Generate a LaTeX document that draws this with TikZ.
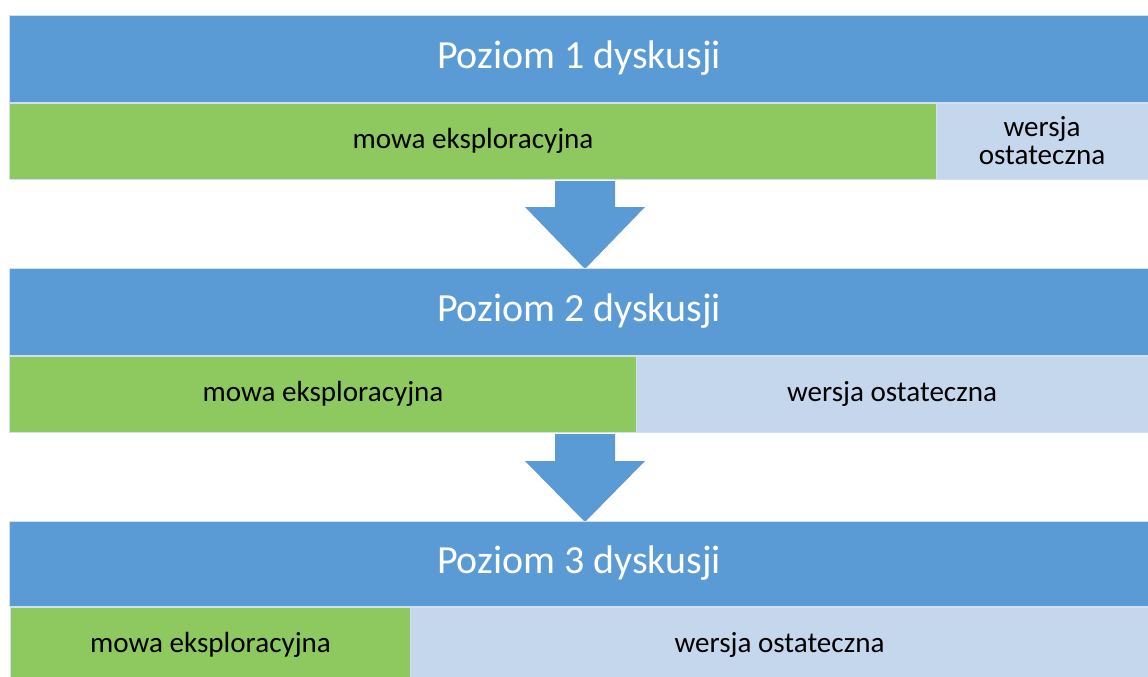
\documentclass[tikz,border=0pt]{standalone}
\usepackage{fontspec}
\setmainfont{Carlito}
\definecolor{headblue}{HTML}{5B9BD5}
\definecolor{explorgreen}{HTML}{8DC95E}
\definecolor{finalblue}{HTML}{C5D7ED}
\definecolor{cellline}{HTML}{D2DFF0}
\begin{document}
\begin{tikzpicture}[x=0.025cm, y=-0.025cm,
    header/.style={draw=cellline, line width=0.6pt, fill=headblue, text=white, inner sep=0pt,
      minimum width=28.45cm, minimum height=2.175cm, font=\fontsize{28.4}{33}\selectfont},
    explor/.style={draw=cellline, line width=0.6pt, fill=explorgreen, inner sep=0pt,
      minimum height=1.9cm, font=\fontsize{20.7}{20}\selectfont},
    final/.style={explor, fill=finalblue, align=center},
    downarrow/.style={fill=headblue}]
  \useasboundingbox (0, 0) rectangle (1148, 676);
  % block arrows between the levels
  \fill [downarrow] (555, 181) -- (615, 181) -- (615, 207) -- (645, 207) -- (585, 269) -- (525, 207) -- (555, 207) -- cycle;
  \fill [downarrow] (555, 434) -- (615, 434) -- (615, 461) -- (645, 461) -- (585, 522) -- (525, 461) -- (555, 461) -- cycle;
  \node [header] (level1) at (579, 58.5) {Poziom 1 dyskusji};
  \node [explor, minimum width=23.15cm] (explor1) at (473, 141) {mowa eksploracyjna};
  \node [final, minimum width=5.3cm] (final1) at (1042, 141) {wersja\\ostateczna};
  \node [header] (level2) at (579, 311.5) {Poziom 2 dyskusji};
  \node [explor, minimum width=15.65cm] (explor2) at (323, 394) {mowa eksploracyjna};
  \node [final, minimum width=12.8cm] (final2) at (892, 394) {wersja ostateczna};
  \node [header, minimum height=2.125cm] (level3) at (579, 563.5) {Poziom 3 dyskusji};
  \node [explor, minimum width=10.025cm] (explor3) at (210.5, 645) {mowa eksploracyjna};
  \node [final, minimum width=18.425cm] (final3) at (779.5, 645) {wersja ostateczna};
\end{tikzpicture}
\end{document}
